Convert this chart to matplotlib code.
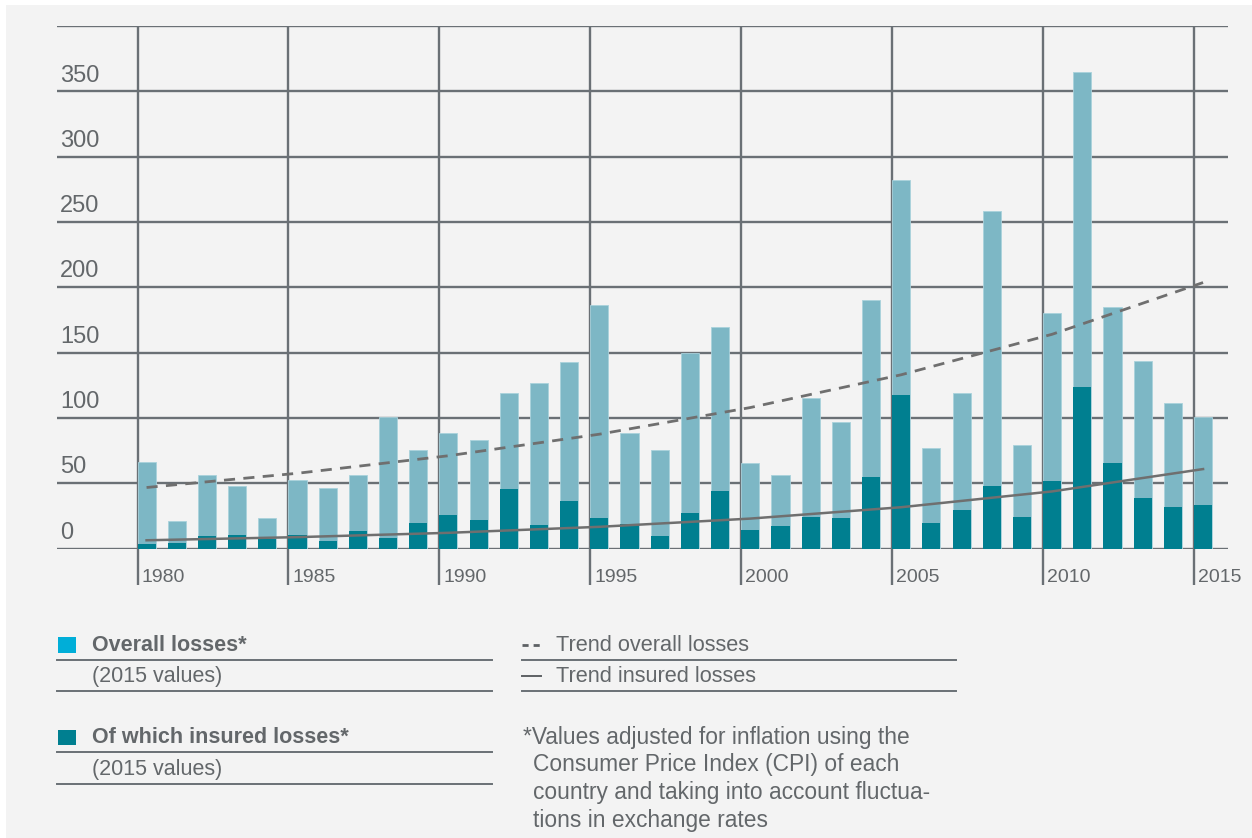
import matplotlib
matplotlib.use("Agg")
import matplotlib.pyplot as plt
from matplotlib.lines import Line2D
from matplotlib.patches import Rectangle
import numpy as np

plt.rcParams["font.family"] = ["Liberation Sans", "DejaVu Sans"]

W, H = 1252, 838

years = list(range(1980, 2016))
overall = [66.6, 20.9, 56.4, 47.5, 23.4, 52.6, 46.2, 56.4, 101.0, 75.6,
           88.2, 83.0, 118.9, 126.5, 142.9, 186.4, 88.2, 75.6, 149.8, 169.8,
           65.4, 56.4, 115.0, 97.1, 190.3, 282.2, 76.6, 118.9, 258.1, 79.2,
           180.3, 364.8, 185.2, 143.2, 111.2, 101.0]
insured = [3.2, 4.5, 9.6, 10.6, 7.5, 10.6, 5.8, 13.4, 8.3, 19.3,
           25.7, 22.1, 45.2, 18.0, 36.2, 23.2, 18.5, 9.4, 27.0, 43.9,
           14.5, 17.0, 24.4, 23.4, 55.1, 117.6, 19.6, 29.8, 47.5, 24.4,
           51.3, 124.0, 65.4, 38.5, 32.1, 33.4]

# trend curves, read every five years at the bar centres
trend_years = [1980, 1985, 1990, 1995, 2000, 2005, 2010, 2015]
trend_overall = [46.7, 57.6, 71.0, 87.5, 107.9, 133.0, 164.0, 203.6]
trend_insured = [6.3, 8.7, 12.0, 16.6, 22.9, 31.6, 43.7, 60.8]

y_ticks = [0, 50, 100, 150, 200, 250, 300, 350]
x_ticks = [1980, 1985, 1990, 1995, 2000, 2005, 2010, 2015]

c_overall = "#7db7c5"
c_insured = "#007f90"
c_overall_key = "#00aed8"
c_grid = "#6a7075"
c_text = "#63676a"
bar_w = 0.6


def px(x, y):
    return x / W, 1 - y / H


fig = plt.figure(figsize=(W / 100, H / 100), dpi=100, facecolor="white")
fig.patches.append(Rectangle(px(6, H), (W - 6) / W, (H - 5) / H,
                             transform=fig.transFigure, facecolor="#f3f3f3",
                             edgecolor="none", zorder=-10))

x0, y0 = px(57, 548.5)
x1, y1 = px(1228, 26)
ax = fig.add_axes([x0, y0, x1 - x0, y1 - y0])
ax.set_facecolor("none")
ax.set_xlim(1977.333, 2016.126)
ax.set_ylim(0, 400)
for s in ax.spines.values():
    s.set_visible(False)
ax.set_xticks([])
ax.set_yticks([])

# grid
for v in y_ticks + [400]:
    ax.axhline(v, color=c_grid, lw=1.7, zorder=1)
ax.vlines(x_ticks, -28, 400, color=c_grid, lw=1.7, zorder=1, clip_on=False)

# bars
ax.bar(years, overall, width=bar_w, align="edge", color=c_overall,
       edgecolor="#a9d2dc", linewidth=0.6, zorder=2)
ax.bar(years, insured, width=bar_w, align="edge", color=c_insured,
       linewidth=0, zorder=3)

# trends
tx = np.array(trend_years) + bar_w / 2
ax.plot(tx, trend_overall, color="#6f6f6f", lw=2.0, ls=(0, (4, 3)), zorder=4)
ax.plot(tx, trend_insured, color="#6f6f6f", lw=1.8, zorder=4)

# axis labels
ytr = ax.get_yaxis_transform()
for v in y_ticks:
    ax.text(0.0026, v + 7.5, str(v), transform=ytr, fontsize=17,
            color=c_text, ha="left", va="baseline")
for yr in x_ticks:
    ax.text(yr + 0.14, -22, str(yr), fontsize=14, color=c_text,
            ha="left", va="center", clip_on=False)


# legend block
def rule(xa, xb, y):
    fig.add_artist(Line2D([xa / W, xb / W], [1 - y / H, 1 - y / H],
                          color=c_grid, lw=1.4, transform=fig.transFigure))


fig.patches.append(Rectangle(px(57.5, 652.5), 18 / W, 15.5 / H,
                             transform=fig.transFigure,
                             facecolor=c_overall_key, edgecolor="none"))
fig.text(*px(92, 645), "Overall losses*", fontsize=15.5, fontweight="bold",
         color=c_text, va="center")
rule(57, 492, 660)
fig.text(*px(92, 676), "(2015 values)", fontsize=15.5, color=c_text,
         va="center")
rule(57, 492, 691)

fig.patches.append(Rectangle(px(57.5, 745), 18 / W, 15.5 / H,
                             transform=fig.transFigure,
                             facecolor=c_insured, edgecolor="none"))
fig.text(*px(92, 737), "Of which insured losses*", fontsize=15.5,
         fontweight="bold", color=c_text, va="center")
rule(57, 492, 752)
fig.text(*px(92, 769), "(2015 values)", fontsize=15.5, color=c_text,
         va="center")
rule(57, 492, 784)

fig.add_artist(Line2D([522 / W, 541 / W], [1 - 645 / H, 1 - 645 / H],
                      color="#5d6164", lw=2.0, ls=(0, (2.2, 1.8)),
                      transform=fig.transFigure))
fig.text(*px(556, 645), "Trend overall losses", fontsize=15.7,
         color=c_text, va="center")
rule(522, 956, 660)
fig.add_artist(Line2D([522 / W, 541 / W], [1 - 676 / H, 1 - 676 / H],
                      color="#5d6164", lw=1.4, transform=fig.transFigure))
fig.text(*px(556, 676), "Trend insured losses", fontsize=15.7,
         color=c_text, va="center")
rule(522, 956, 691)

note = ["*Values adjusted for inflation using the",
        "Consumer Price Index (CPI) of each",
        "country and taking into account fluctua-",
        "tions in exchange rates"]
for i, line in enumerate(note):
    fig.text(*px(523 if i == 0 else 533, 737 + 27.7 * i), line,
             fontsize=16.4, color=c_text, va="center")

fig.savefig("out.png", dpi=100, facecolor=fig.get_facecolor())
